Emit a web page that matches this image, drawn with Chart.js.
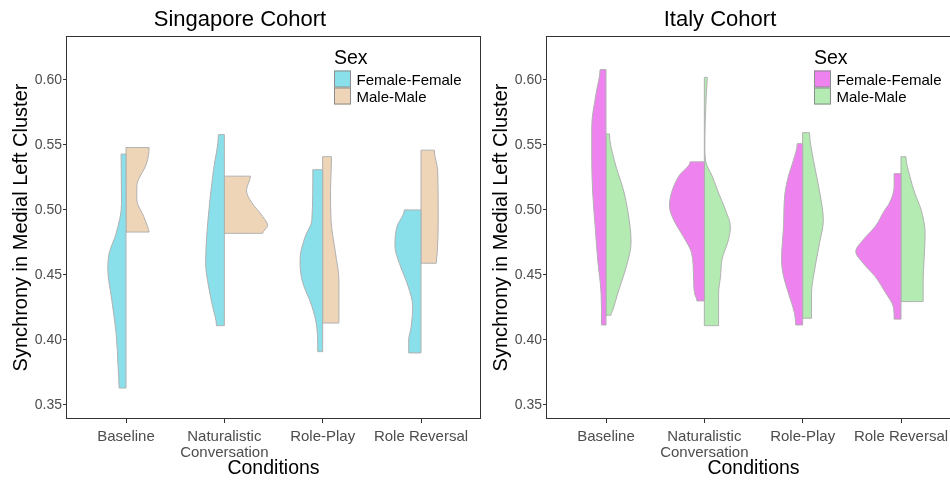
<!DOCTYPE html>
<html>
<head>
<meta charset="utf-8">
<script src="https://cdn.jsdelivr.net/npm/chart.js@4.4.1/dist/chart.umd.min.js"></script>
<style>
  html, body { margin: 0; padding: 0; background: #fff; overflow: hidden; width: 950px; height: 480px; }
  canvas { position: absolute; top: 0; }
  #sgChart { left: 0; }
  #itChart { left: 480px; }
</style>
</head>
<body>
<canvas id="sgChart" width="482" height="480"></canvas>
<canvas id="itChart" width="482" height="480"></canvas>
<script>
const conditions = ['Baseline', ['Naturalistic', 'Conversation'], 'Role-Play', 'Role Reversal'];
const sexes = ['Female-Female', 'Male-Male'];
const yTicks = [0.35, 0.40, 0.45, 0.50, 0.55, 0.60];

// density profiles: [value, half width in category units]
// Singapore cohort
const sgBaselineFF = [[0.543,0.05],[0.505,0.045],[0.482,0.10],[0.467,0.17],[0.455,0.185],[0.431,0.145],[0.405,0.10],[0.379,0.08],[0.363,0.07]];
const sgBaselineMM = [[0.548,0.235],[0.536,0.21],[0.518,0.11],[0.508,0.11],[0.495,0.18],[0.487,0.22],[0.483,0.235]];
const sgNaturalFF = [[0.558,0.06],[0.531,0.11],[0.505,0.15],[0.479,0.18],[0.459,0.19],[0.441,0.16],[0.426,0.12],[0.411,0.08]];
const sgNaturalMM = [[0.526,0.265],[0.515,0.225],[0.506,0.275],[0.495,0.39],[0.488,0.44],[0.482,0.39]];
const sgRolePlayFF = [[0.531,0.10],[0.492,0.11],[0.479,0.18],[0.462,0.23],[0.446,0.21],[0.426,0.11],[0.410,0.06],[0.391,0.05]];
const sgRolePlayMM = [[0.541,0.09],[0.515,0.08],[0.492,0.085],[0.467,0.13],[0.446,0.165],[0.413,0.165]];
const sgReversalFF = [[0.500,0.17],[0.487,0.245],[0.472,0.265],[0.459,0.22],[0.441,0.13],[0.426,0.085],[0.410,0.10],[0.400,0.125],[0.390,0.125]];
const sgReversalMM = [[0.546,0.135],[0.530,0.17],[0.492,0.175],[0.467,0.165],[0.459,0.155]];

// Italy cohort
const itBaselineFF = [[0.608,0.06],[0.590,0.10],[0.564,0.145],[0.538,0.145],[0.513,0.135],[0.487,0.11],[0.462,0.085],[0.436,0.05],[0.4115,0.045]];
const itBaselineMM = [[0.5585,0.035],[0.538,0.085],[0.513,0.185],[0.487,0.245],[0.475,0.255],[0.456,0.205],[0.436,0.12],[0.423,0.07],[0.419,0.05]];
const itNaturalFF = [[0.537,0.145],[0.526,0.26],[0.513,0.335],[0.503,0.355],[0.492,0.31],[0.479,0.21],[0.467,0.13],[0.449,0.11],[0.436,0.10],[0.430,0.075]];
const itNaturalMM = [[0.602,0.03],[0.590,0.02],[0.570,0.01],[0.550,0.005],[0.537,0.015],[0.526,0.08],[0.513,0.145],[0.500,0.215],[0.487,0.265],[0.477,0.245],[0.462,0.18],[0.449,0.165],[0.436,0.145],[0.411,0.145]];
const itRolePlayFF = [[0.551,0.055],[0.538,0.095],[0.526,0.145],[0.513,0.18],[0.487,0.195],[0.462,0.215],[0.449,0.195],[0.436,0.145],[0.421,0.085],[0.4115,0.07]];
const itRolePlayMM = [[0.5595,0.07],[0.538,0.11],[0.513,0.175],[0.492,0.21],[0.474,0.17],[0.449,0.11],[0.436,0.09],[0.4167,0.09]];
const itReversalFF = [[0.528,0.07],[0.518,0.07],[0.505,0.12],[0.500,0.165],[0.487,0.265],[0.477,0.385],[0.468,0.46],[0.459,0.385],[0.449,0.265],[0.436,0.155],[0.426,0.08],[0.416,0.07]];
const itReversalMM = [[0.541,0.05],[0.526,0.09],[0.513,0.14],[0.500,0.205],[0.482,0.245],[0.462,0.235],[0.446,0.225],[0.4295,0.225]];

const sgColors = ['#8ae0ea', '#eed5b7'];
const itColors = ['#ee82ee', '#b3ebb3'];

Chart.defaults.font.family = '"Liberation Sans", Arial, sans-serif';

// closed outline of one half violin, left (-1) or right (+1) of the category centre
function halfViolin(profile, center, side) {
    let top = profile[0][0];
    let bottom = profile[profile.length - 1][0];
    let pts = [{x: center, y: top}];
    profile.forEach(p => pts.push({x: center + side * p[1], y: p[0]}));
    pts.push({x: center, y: bottom});
    pts.push({x: center, y: top});
    return pts;
}

const frameAndKey = {
    id: 'frameAndKey',
    afterDraw(chart, args, opts) {
        const {ctx, chartArea: a} = chart;
        ctx.save();
        ctx.strokeStyle = '#333';
        ctx.lineWidth = 1;
        ctx.strokeRect(Math.round(a.left) - 0.5, Math.round(a.top) + 0.5, Math.round(a.right - a.left) + 1, Math.round(a.bottom - a.top) - 1);

        // legend "Sex"
        const lx = a.right - 146;
        const ty = a.top;
        ctx.fillStyle = '#000';
        ctx.font = '19.5px "Liberation Sans", Arial, sans-serif';
        ctx.textBaseline = 'alphabetic';
        ctx.fillText('Sex', lx, ty + 28);
        opts.colors.forEach((c, i) => {
            const y = ty + 34.5 + i * 17;
            ctx.fillStyle = c;
            ctx.fillRect(lx, y, 17, 17);
            ctx.strokeStyle = '#8c8c8c';
            ctx.strokeRect(lx + 0.5, y + 0.5, 16, 16);
            ctx.fillStyle = '#000';
            ctx.font = '15px "Liberation Sans", Arial, sans-serif';
            ctx.textBaseline = 'middle';
            ctx.fillText(sexes[i], lx + 22.5, y + 10);
        });
        ctx.restore();
    }
};

function makeChart(canvasId, title, violins, colors) {
    let datasets = [];
    violins.forEach((pair, i) => {
        pair.forEach((profile, s) => {
            datasets.push({
                label: sexes[s],
                data: halfViolin(profile, i + 1, s === 0 ? -1 : 1),
                backgroundColor: colors[s],
                borderColor: '#b0b0b0',
                borderWidth: 1,
                fill: 'shape',
                cubicInterpolationMode: 'monotone',
                pointRadius: 0
            });
        });
    });

    return new Chart(document.getElementById(canvasId), {
        type: 'line',
        data: {datasets: datasets},
        plugins: [frameAndKey],
        options: {
            responsive: false,
            animation: false,
            indexAxis: 'y',
            layout: {padding: {right: 2}},
            plugins: {
                legend: {display: false},
                tooltip: {enabled: false},
                title: {
                    display: true,
                    text: title,
                    color: '#000',
                    font: {size: 22, weight: 'normal', lineHeight: 1.2},
                    padding: {top: 7, bottom: 2.6}
                },
                frameAndKey: {colors: colors}
            },
            scales: {
                x: {
                    type: 'linear',
                    min: 0.4,
                    max: 4.6,
                    afterBuildTicks: s => { s.ticks = conditions.map((c, i) => ({value: i + 1})); },
                    afterFit: s => { s.height = 61; },
                    grid: {drawOnChartArea: false, drawTicks: true, tickLength: 4, color: '#333'},
                    border: {display: false},
                    ticks: {
                        autoSkip: false,
                        maxRotation: 0,
                        padding: 6,
                        color: '#4d4d4d',
                        font: {size: 15, lineHeight: 1.05},
                        callback: (v, idx) => conditions[idx]
                    },
                    title: {
                        display: true,
                        text: 'Conditions',
                        color: '#000',
                        font: {size: 19.5},
                        padding: {top: 0, bottom: 0}
                    }
                },
                y: {
                    type: 'linear',
                    min: 0.3392,
                    max: 0.6338,
                    afterBuildTicks: s => { s.ticks = yTicks.map(v => ({value: v})); },
                    afterFit: s => { s.width = 67; },
                    grid: {drawOnChartArea: false, drawTicks: true, tickLength: 4, color: '#333'},
                    border: {display: false},
                    ticks: {
                        padding: 1,
                        color: '#4d4d4d',
                        font: {size: 14},
                        callback: v => v.toFixed(2)
                    },
                    title: {
                        display: true,
                        text: 'Synchrony in Medial Left Cluster',
                        color: '#000',
                        font: {size: 20},
                        padding: {top: 9, bottom: 0}
                    }
                }
            }
        }
    });
}

makeChart('sgChart', 'Singapore Cohort', [
    [sgBaselineFF, sgBaselineMM],
    [sgNaturalFF, sgNaturalMM],
    [sgRolePlayFF, sgRolePlayMM],
    [sgReversalFF, sgReversalMM]
], sgColors);

makeChart('itChart', 'Italy Cohort', [
    [itBaselineFF, itBaselineMM],
    [itNaturalFF, itNaturalMM],
    [itRolePlayFF, itRolePlayMM],
    [itReversalFF, itReversalMM]
], itColors);
</script>
</body>
</html>
